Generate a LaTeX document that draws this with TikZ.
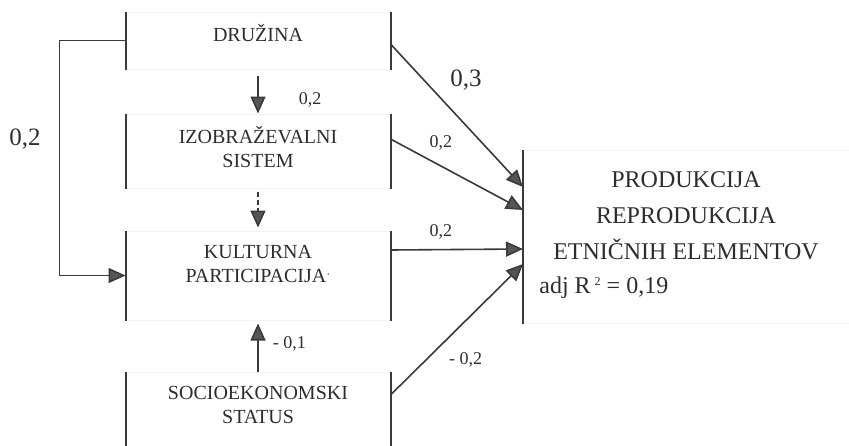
\documentclass[tikz,border=0pt]{standalone}
\usepackage{fontspec}
\setmainfont{Liberation Serif}
\usetikzlibrary{arrows.meta,positioning,calc}
\definecolor{inkgray}{RGB}{58,58,58}
\definecolor{tipgray}{RGB}{85,85,85}
\definecolor{textgray}{RGB}{45,45,45}
\definecolor{faintgray}{RGB}{243,243,243}
\tikzset{
  box/.style={rectangle, draw=faintgray, line width=0.5pt, inner sep=0pt, minimum width=132pt},
  boxtext/.style={inner sep=0pt, align=center, text=textgray, font=\fontsize{10}{12}\selectfont},
  bigtext/.style={boxtext, font=\fontsize{12}{18}\selectfont},
  edge/.style={inkgray, line width=1pt},
  arrow/.style={-{Triangle[length=8.5pt,width=7.5pt,fill=tipgray]}, inkgray, line width=0.8pt},
  val/.style={inner sep=0pt, text=textgray, font=\fontsize{9}{11}\selectfont},
  bigval/.style={val, font=\fontsize{12.5}{15}\selectfont},
}

\begin{document}
\begin{tikzpicture}[x=0.5pt, y=-0.5pt]
\useasboundingbox (0,0) rectangle (849,445);
% left column
\node[box, minimum height=28.5pt] (druzina) at (258,40.5) {};
\node[box, minimum height=37pt, below=22pt of druzina] (sistem) {};
\node[box, minimum height=44.5pt, below=21pt of sistem] (kultura) {};
\node[box, minimum height=38pt, below=25.5pt of kultura] (status) {};
\node[box, minimum width=170pt, minimum height=86.5pt, anchor=west] (produkcija) at (523,236.5) {};
\foreach \b in {druzina, sistem, kultura, status}
  \draw[edge] (\b.north west) -- (\b.south west) (\b.north east) -- (\b.south east);
\draw[edge] (produkcija.north west) -- (produkcija.south west);

\node[boxtext, below=6pt of druzina.north] (druzinatxt) {DRUŽINA};
\node[boxtext, below=6pt of sistem.north] (sistemtxt) {IZOBRAŽEVALNI\\SISTEM};
\node[boxtext, below=7pt of kultura.north] (kulturatxt) {KULTURNA\\PARTICIPACIJA{\fontsize{6}{6}\selectfont\raisebox{2pt}{·}}};
\node[boxtext, below=7pt of status.north] (statustxt) {SOCIOEKONOMSKI\\STATUS};
\node[bigtext] (produkcijatxt) at (686,216) {PRODUKCIJA\\REPRODUKCIJA\\ETNIČNIH ELEMENTOV};
\node[bigtext, anchor=west] (adjr) at (539,288) {adj R\,{\fontsize{6}{6}\selectfont\raisebox{4pt}{2}} = 0,19};

% paths to the outcome
\draw[arrow] ($(druzina.east)+(0,3.5)$) -- node[bigval, pos=.25, right=13pt] (v1) {0,3} ($(produkcija.west)+(0,-49.5)$);
\draw[arrow] ($(sistem.east)+(0,-12)$) -- node[val, pos=.38, above=7.5pt] (v2) {0,2} ($(produkcija.west)+(0,-26.5)$);
\draw[arrow] ($(kultura.east)+(0,-25.5)$) -- node[val, pos=.38, above=5pt] (v3) {0,2} ($(produkcija.west)+(0,12.5)$);
\draw[arrow] ($(status.east)+(0,-15)$) -- node[val, pos=.27, right=11pt] (v4) {- 0,2} ($(produkcija.west)+(0,27.5)$);

% paths inside the column
\draw[arrow] ([yshift=-3pt]druzina.south) -- node[val, pos=.65, right=20pt] (v5) {0,2} (sistem.north);
\draw[arrow, dash pattern=on 2.5pt off 1.5pt, shorten <=1.5pt, shorten >=1.5pt] (sistem.south) -- (kultura.north);
\draw[arrow, shorten >=1.5pt] (status.north) -- node[val, pos=.55, right=7pt] (v6) {- 0,1} (kultura.south);
\draw[arrow] (druzina.west) -- ++(-66,0) |- node[bigval, pos=.21, left=9pt] (v7) {0,2} (kultura.west);
\end{tikzpicture}
\end{document}
